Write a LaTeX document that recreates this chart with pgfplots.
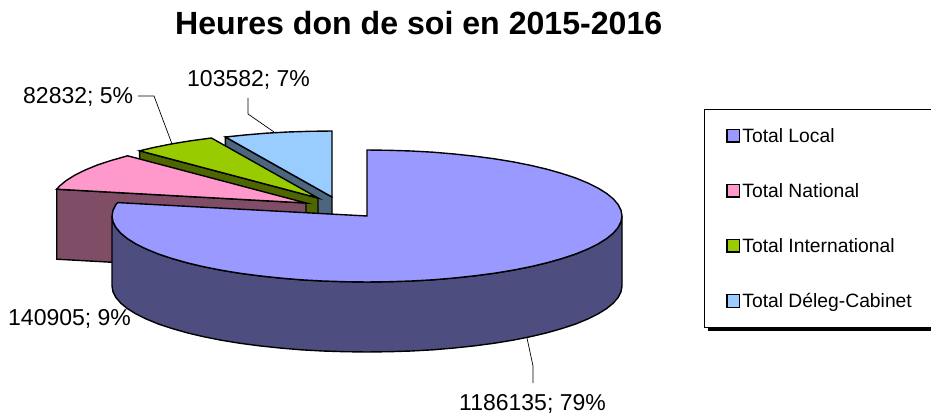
\documentclass[border=0pt]{standalone}
\usepackage{fontspec}
\setmainfont{Liberation Sans}
\usepackage{pgfplots}
\pgfplotsset{compat=1.18}
\definecolor{cLocal}{HTML}{9999FF}
\definecolor{sLocal}{HTML}{4D4D80}
\definecolor{cNat}{HTML}{FF99CC}
\definecolor{sNat}{HTML}{804D66}
\definecolor{cInt}{HTML}{99CC00}
\definecolor{sInt}{HTML}{4D6600}
\definecolor{cCab}{HTML}{99CCFF}
\definecolor{sCab}{HTML}{4D6680}
\begin{document}
\begin{tikzpicture}[x=1pt,y=1pt]
\path[use as bounding box] (0,0) rectangle (931,414);
\begin{axis}[
  at={(0,0)},anchor=south west,
  scale only axis,width=931pt,height=414pt,
  xmin=0,xmax=931,ymin=0,ymax=414,y dir=reverse,
  hide axis,clip=true,
  reverse legend,
  legend cell align=left,
  legend image code/.code={\draw[#1,draw=black,line width=1.4pt] (0pt,-6.2pt) rectangle (12.5pt,6.3pt);},
  legend style={at={(axis cs:704,109)},anchor=north west,draw=black,line width=0.9pt,fill=white,
    font=\fontsize{19.3}{22}\selectfont,row sep=35.5pt,inner xsep=22pt,inner ysep=16.8pt,
    column 2/.style={nodes={text width=210pt,align=left,xshift=2pt}}},
]
% shadow of legend box
\addplot[black,fill=black,forget plot] coordinates {(708,326) (940,326) (940,330.5) (708,330.5)} -- cycle;

% Total Deleg-Cabinet 103582
\addplot[fill=sCab,draw=black,line width=1.4pt,forget plot] coordinates {(225.4,137) (332,197) (332,267) (225.4,207)} -- cycle;
\addplot[fill=cCab,draw=black,line width=1.4pt] coordinates {(332,197) (225.4,137) (244.8,135) (266,133.2) (287.7,132) (309.8,131.3) (332,131)} -- cycle;
\addlegendentry{Total Déleg-Cabinet}

% Total International 82832
\addplot[fill=sInt,draw=black,line width=1.4pt,forget plot] coordinates {(139.6,150.8) (318,198) (318,268) (139.6,220.8)} -- cycle;
\addplot[fill=cInt,draw=black,line width=1.4pt] coordinates {(318,198) (139.6,150.8) (154.1,147.4) (171.7,143.9) (190.5,140.8) (211.4,138)} -- cycle;
\addlegendentry{Total International}

% Total National 140905
\addplot[fill=sNat,draw=black,line width=1.4pt,forget plot] coordinates {(56.7,189.2) (306,203) (306,273) (56.7,259.2)} -- cycle;
\addplot[fill=cNat,draw=black,line width=1.4pt] coordinates {(306,203) (56.7,189.2) (59.7,185.9) (66.4,180.4) (74.9,175.1) (85.2,170) (97.1,165.1) (110.7,160.6) (127.6,155.8)} -- cycle;
\addlegendentry{Total National}

% Total Local 1186135: outer wall
\addplot[fill=sLocal,draw=black,line width=1.4pt,forget plot] coordinates {
 (622,216) (621,221.8) (618.1,227.5) (613.3,233.1) (606.6,238.6) (598.1,243.9) (587.8,249) (575.9,253.9) (562.3,258.4) (547.3,262.7) (530.9,266.6) (513.3,270.1) (494.5,273.2) (474.8,275.8) (454.2,278) (433,279.8) (411.3,281) (389.2,281.7) (367,282)
 (344.8,281.7) (322.7,281) (301,279.8) (279.8,278) (259.2,275.8) (239.5,273.2) (220.7,270.1) (203.1,266.6) (186.7,262.7) (171.7,258.4) (158.1,253.9) (146.2,249) (135.9,243.9) (127.4,238.6) (120.7,233.1) (115.9,227.5) (113,221.8) (112,216)
 (112,286) (113,291.8) (115.9,297.5) (120.7,303.1) (127.4,308.6) (135.9,313.9) (146.2,319) (158.1,323.9) (171.7,328.4) (186.7,332.7) (203.1,336.6) (220.7,340.1) (239.5,343.2) (259.2,345.8) (279.8,348) (301,349.8) (322.7,351) (344.8,351.7) (367,352)
 (389.2,351.7) (411.3,351) (433,349.8) (454.2,348) (474.8,345.8) (494.5,343.2) (513.3,340.1) (530.9,336.6) (547.3,332.7) (562.3,328.4) (575.9,323.9) (587.8,319) (598.1,313.9) (606.6,308.6) (613.3,303.1) (618.1,297.5) (621,291.8) (622,286)
} -- cycle;
% Total Local: top face
\addplot[fill=cLocal,draw=black,line width=1.4pt] coordinates {
 (367,216) (367,150) (389.2,150.3) (411.3,151) (433,152.2) (454.2,154) (474.8,156.2) (494.5,158.8) (513.3,161.9) (530.9,165.4) (547.3,169.3) (562.3,173.6) (575.9,178.1) (587.8,183) (598.1,188.1) (606.6,193.4) (613.3,198.9) (618.1,204.5) (621,210.2) (622,216)
 (621,221.8) (618.1,227.5) (613.3,233.1) (606.6,238.6) (598.1,243.9) (587.8,249) (575.9,253.9) (562.3,258.4) (547.3,262.7) (530.9,266.6) (513.3,270.1) (494.5,273.2) (474.8,275.8) (454.2,278) (433,279.8) (411.3,281) (389.2,281.7) (367,282)
 (344.8,281.7) (322.7,281) (301,279.8) (279.8,278) (259.2,275.8) (239.5,273.2) (220.7,270.1) (203.1,266.6) (186.7,262.7) (171.7,258.4) (158.1,253.9) (146.2,249) (135.9,243.9) (127.4,238.6) (120.7,233.1) (115.9,227.5) (113,221.8) (112,216)
 (113,210.2) (115.9,204.5) (117.7,202.6)
} -- cycle;
\addlegendentry{Total Local}

% leader lines
\addplot[black,line width=0.7pt,forget plot] coordinates {(248,98) (248,114) (274,132)};
\addplot[black,line width=0.7pt,forget plot] coordinates {(138,96) (154,96) (172,144)};
\addplot[black,line width=0.7pt,forget plot] coordinates {(527,338) (533,366) (533,383)};

\node[anchor=base west,inner sep=0pt,font=\fontsize{32.1}{36}\selectfont\bfseries] at (axis cs:175,35) {Heures don de soi en 2015-2016};
\node[anchor=base west,inner sep=0pt,font=\fontsize{23}{27}\selectfont] at (axis cs:187,87) {103582; 7\%};
\node[anchor=base west,inner sep=0pt,font=\fontsize{23}{27}\selectfont] at (axis cs:23,104) {82832; 5\%};
\node[anchor=base west,inner sep=0pt,font=\fontsize{23}{27}\selectfont] at (axis cs:8,325) {140905; 9\%};
\node[anchor=base west,inner sep=0pt,font=\fontsize{23}{27}\selectfont] at (axis cs:459,410) {1186135; 79\%};
\end{axis}
\end{tikzpicture}
\end{document}
